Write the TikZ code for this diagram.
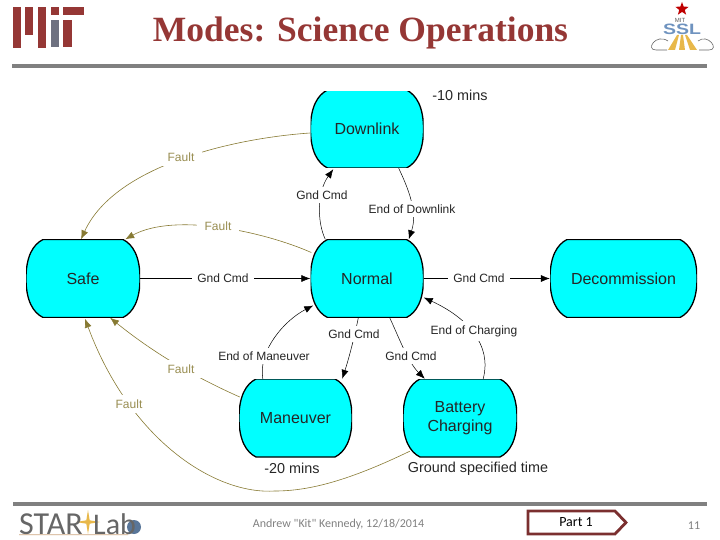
\documentclass[tikz,border=0pt]{standalone}
\usepackage{fontspec}
\setmainfont{Liberation Sans}
\newfontfamily\titlefont{Liberation Serif}
\newfontfamily\footfont{Carlito}
\usetikzlibrary{arrows.meta, calc, shapes.geometric, shapes.symbols}
\definecolor{modecyan}{HTML}{00FFFF}
\definecolor{faultolive}{HTML}{877A33}
\definecolor{mitred}{HTML}{953735}
\definecolor{mitgrey}{HTML}{6E7180}
\definecolor{rulegrey}{HTML}{808080}
\definecolor{partred}{HTML}{7B2F2F}
\definecolor{sslblue}{HTML}{6F93BF}
\definecolor{stargold}{HTML}{E8B84A}
\tikzset{
    modebox/.style={rectangle, inner sep=0pt, minimum height=78pt, align=center,
        font=\fontsize{16}{19}\selectfont, text=black!85,
        path picture={
            \draw[fill=modecyan, line width=1.3pt]
                (path picture bounding box.west) .. controls +(0,-22) and +(-10,5) .. ([xshift=17pt]path picture bounding box.north west)
                -- ([xshift=-17pt]path picture bounding box.north east) .. controls +(10,5) and +(0,-22) .. (path picture bounding box.east)
                .. controls +(0,22) and +(10,-5) .. ([xshift=-17pt]path picture bounding box.south east)
                -- ([xshift=17pt]path picture bounding box.south west) .. controls +(-10,-5) and +(0,22) .. (path picture bounding box.west) -- cycle;
        }},
    cmdline/.style={draw=black, line width=.5pt, -{Latex[length=9pt,width=7pt]}},
    faultline/.style={draw=faultolive, line width=.6pt, -{Latex[length=9pt,width=7pt]}},
    cmdlabel/.style={fill=white, inner xsep=5pt, inner ysep=4pt, font=\fontsize{12}{14}\selectfont, text=black!85},
    faultlabel/.style={fill=white, inner xsep=8pt, inner ysep=5pt, font=\fontsize{12}{14}\selectfont, text=faultolive!85},
    timelabel/.style={inner sep=0pt, font=\fontsize{14.4}{17}\selectfont, text=black!85},
    footlabel/.style={inner sep=0pt, font=\footfont\fontsize{12}{15}\selectfont, text=rulegrey},
}
\begin{document}
\begin{tikzpicture}[x=1pt, y=-1pt]
    \useasboundingbox (0,0) rectangle (720,540);

    % MIT logo and title
    \foreach \xa/\yb in {13/48, 25/35, 38/48, 51/15}
        \fill[mitred] (\xa,7) rectangle (\xa+8,\yb);
    \fill[mitgrey] (51,20) rectangle (59,47);
    \fill[mitred] (63,7) rectangle (84,15);
    \fill[mitred] (63,20) rectangle (72,47);
    \node[text=mitred, inner sep=0pt, font=\titlefont\bfseries\fontsize{35.5}{40}\selectfont] (Title) at (360.5,33) {Modes: Science Operations};
    \fill[rulegrey] (12,64) rectangle (707,68);

    % SSL logo
    \fill[stargold] (668,50) -- (677,35) -- (679,35) -- (675,50) -- cycle;
    \fill[stargold] (679,50) -- (681,35) -- (683,35) -- (685,50) -- cycle;
    \fill[stargold] (690,50) -- (685,35) -- (687,35) -- (697,50) -- cycle;
    \draw[black!60, line width=.6pt] (668,41) .. controls (656,33) and (645,50) .. (656,50) -- (667,50);
    \draw[black!60, line width=.6pt] (698,41) .. controls (708,33) and (720,50) .. (709,50) -- (699,50);
    \node[star, star points=5, star point ratio=2.4, fill=red!75!black, inner sep=0pt, minimum size=14pt] (SslStar) at (682,9) {};
    \node[inner sep=0pt, text=black!65, font=\fontsize{6}{7}\selectfont] (SslMit) at (680,20) {MIT};
    \node[inner sep=0pt, xscale=1.3, text=sslblue, font=\bfseries\fontsize{15}{18}\selectfont] (SslText) at (682,29) {SSL};

    % Modes
    \node[modebox, minimum width=113pt] (Downlink) at (367,129) {Downlink};
    \node[modebox, minimum width=113pt] (Normal) at (367,278.5) {Normal};
    \node[modebox, minimum width=114pt] (Safe) at (83,278.5) {Safe};
    \node[modebox, minimum width=147pt] (Decommission) at (623.5,278.5) {Decommission};
    \node[modebox, minimum width=113pt] (Maneuver) at (295.5,418) {Maneuver};
    \node[modebox, minimum width=114pt] (Battery) at (460,418) {Battery\\Charging};
    \fill[white] ($(Downlink.north west)+(0,-3)$) rectangle ($(Downlink.north east)+(0,0.8)$);

    % Commands
    \draw[cmdline] ($(Normal.north west)+(15,0)$) .. controls (317,222) and (317,192) .. ($(Downlink.south west)+(23,1)$);
    \draw[cmdline] ($(Downlink.south east)+(-25,0)$) .. controls (408,188) and (418,212) .. ($(Normal.north east)+(-15,0)$);
    \draw[cmdline] (Safe.east) -- (Normal.west);
    \draw[cmdline] (Normal.east) -- (Decommission.west);
    \draw[cmdline] ($(Maneuver.north west)+(24,0)$) .. controls (258,350) and (285,320) .. ($(Normal.west)+(3,27)$);
    \draw[cmdline] ($(Normal.south west)+(48,0)$) .. controls (356,330) and (350,355) .. ($(Maneuver.north east)+(-10,0)$);
    \draw[cmdline] ($(Normal.south east)+(-34,0)$) .. controls (400,340) and (408,362) .. ($(Battery.north west)+(22,0)$);
    \draw[cmdline] ($(Battery.north east)+(-34,0)$) .. controls (492,345) and (468,318) .. ($(Normal.east)+(0,19)$);

    % Faults
    \coordinate (FaultLow) at (275,491);
    \draw[faultline] ($(Downlink.west)+(0,4)$) .. controls (235,138) and (115,165) .. ($(Safe.north)+(-2,0)$);
    \draw[faultline] ($(Normal.west)+(1,-26)$) .. controls (265,232) and (175,212) .. ($(Safe.north east)+(-15,0)$);
    \draw[faultline] ($(Maneuver.west)+(1,-21)$) .. controls (190,375) and (150,350) .. ($(Safe.south)+(27,0)$);
    \draw[faultline, -] ($(Battery.south west)+(7,-6)$) .. controls (350,480) and (310,491) .. (FaultLow);
    \draw[faultline] (FaultLow) .. controls (215,495) and (130,440) .. ($(Safe.south)+(2,1)$);

    % Transition labels
    \node[cmdlabel] (CmdDownlink) at (322,195) {Gnd Cmd};
    \node[cmdlabel] (EndDownlink) at (412,209) {End of Downlink};
    \node[cmdlabel] (CmdSafe) at (223,278) {Gnd Cmd};
    \node[cmdlabel] (CmdDecom) at (479,278) {Gnd Cmd};
    \node[cmdlabel] (CmdManeuver) at (354,334) {Gnd Cmd};
    \node[cmdlabel] (EndManeuver) at (264,356) {End of Maneuver};
    \node[cmdlabel] (CmdBattery) at (411,356) {Gnd Cmd};
    \node[cmdlabel] (EndCharging) at (474,331) {End of Charging};
    \node[faultlabel] (FaultDownlink) at (181,157) {Fault};
    \node[faultlabel] (FaultNormal) at (218,226) {Fault};
    \node[faultlabel] (FaultManeuver) at (181,369) {Fault};
    \node[faultlabel] (FaultBattery) at (129,404) {Fault};

    % Time notes
    \node[timelabel] (TimeDownlink) at (460,95) {-10 mins};
    \node[timelabel] (TimeManeuver) at (292,468) {-20 mins};
    \node[timelabel] (TimeBattery) at (478,469) {Ground specified time};

    % Footer
    \fill[rulegrey] (13,502) rectangle (707,506);
    \node[star, star points=4, star point ratio=5, fill=stargold, inner sep=0pt, minimum size=24pt] (StarGlint) at (88,522) {};
    \fill[sslblue!80!black] (134,527) circle (7);
    \node[inner sep=0pt, anchor=west, text=black!60, font=\footfont\fontsize{32}{36}\selectfont] (StarText) at (19,524) {STAR};
    \node[inner sep=0pt, anchor=west, text=black!60, font=\footfont\fontsize{30}{36}\selectfont] (LabText) at (93,524) {Lab};
    \draw[orange!60!black!50, line width=.8pt] (StarText.south west) -- ($(LabText.south east)+(-8,0)$);
    \node[footlabel] (Author) at (338.5,524) {Andrew "Kit" Kennedy, 12/18/2014};
    \node[inner sep=0pt, text=black, font=\footfont\fontsize{14}{16}\selectfont] (Part) at (576,522) {Part 1};
    \draw[partred, line width=2.8pt, line join=miter] (528,511) -- (615,511) -- (626,522.5) -- (615,534) -- (528,534) -- cycle;
    \node[footlabel] (PageNo) at (694,526) {11};
\end{tikzpicture}
\end{document}
